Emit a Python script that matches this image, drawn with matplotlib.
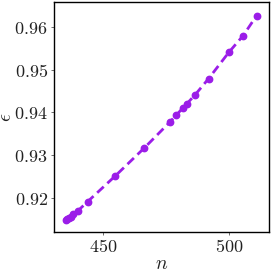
import matplotlib
matplotlib.use("Agg")
import matplotlib.pyplot as plt

n_vals = [435.2, 435.8, 436.5, 437.1, 438.2, 440.1, 443.9, 454.9, 466.4, 476.5,
          479.0, 481.7, 483.3, 486.6, 492.0, 500.0, 505.7, 511.1]
eps_vals = [0.9149, 0.9152, 0.9154, 0.9157, 0.9163, 0.9171, 0.9192, 0.9252, 0.9317, 0.9377,
            0.9393, 0.9410, 0.9420, 0.9441, 0.9479, 0.9540, 0.9579, 0.9626]
xticks = [450, 500]
yticks = [0.92, 0.93, 0.94, 0.95, 0.96]

plt.rcParams['mathtext.fontset'] = 'cm'
plt.rcParams['font.family'] = 'serif'
plt.rcParams['font.serif'] = ['DejaVu Serif']

fig = plt.figure(figsize=(2.71, 2.71), dpi=100)
ax = fig.add_axes([54/271, 1 - 232/271, 215/271, 230/271])
color = '#9b1de8'
ax.plot(n_vals, eps_vals, '--', color=color, lw=2, dashes=(3.2, 1.8))
ax.plot(n_vals, eps_vals, 'o', color=color, ms=4.6)
ax.set_xlim(430.5, 516)
ax.set_ylim(0.9121, 0.96576)
ax.set_xticks(xticks)
ax.set_xticklabels([f'${t}$' for t in xticks], fontsize=13, color='#222222')
ax.set_yticks(yticks)
ax.set_yticklabels([f'${t:.2f}$' for t in yticks], fontsize=13, color='#222222')
ax.set_xlabel(r'$n$', fontsize=14, labelpad=-1, color='#222222')
ax.set_ylabel(r'$\epsilon$', fontsize=14, labelpad=-1, color='#222222')
for s in ax.spines.values():
    s.set_color('black')
    s.set_linewidth(1.0)
ax.tick_params(length=2.5, width=0.6, pad=2, color='#555555')
fig.savefig('out.png', dpi=100)
